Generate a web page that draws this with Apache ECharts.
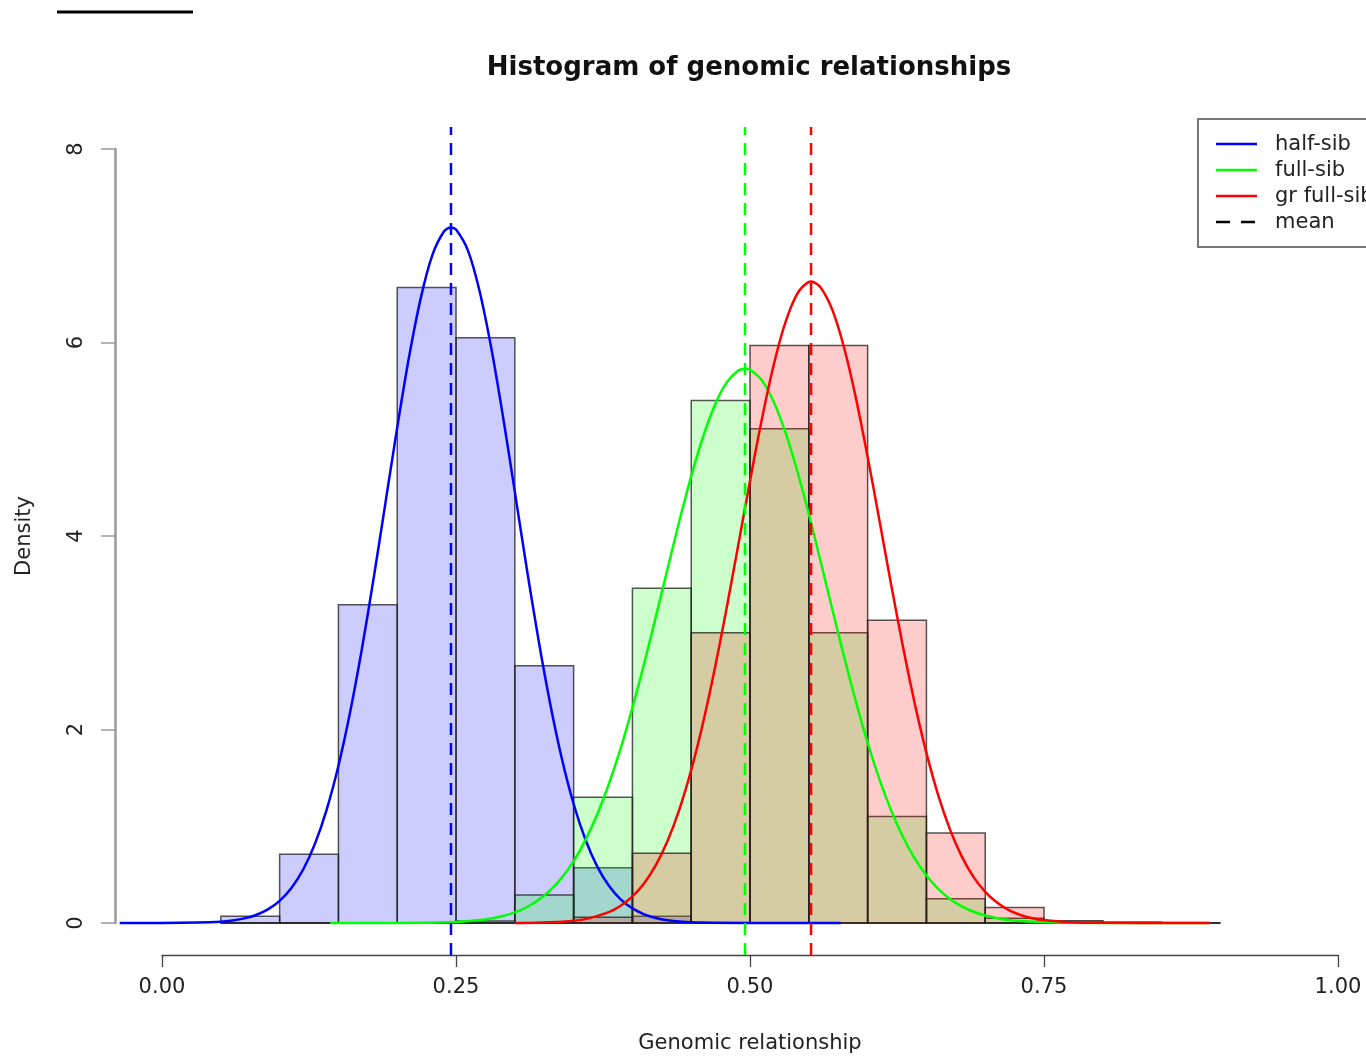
<!DOCTYPE html>
<html>
<head>
<meta charset="utf-8">
<script src="https://cdn.jsdelivr.net/npm/echarts@6/dist/echarts.min.js"></script>
<style>
html,body{margin:0;padding:0;background:#fff;}
#chart{width:1366px;height:1058px;}
</style>
</head>
<body>
<div id="chart"></div>
<script>
// ---- data ----
var binEdges = [0.05,0.10,0.15,0.20,0.25,0.30,0.35,0.40,0.45,0.50,0.55,0.60,0.65,0.70,0.75,0.80,0.85,0.90];
var halfSibHist   = [0.07,0.71,3.29,6.57,6.05,2.66,0.57,0.07,0,0,0,0,0,0,0,0,0];
var fullSibHist   = [0,0,0,0,0.02,0.29,1.30,3.46,5.40,5.11,3.00,1.10,0.25,0.05,0.02,0,0];
var grFullSibHist = [0,0,0,0,0,0,0.06,0.72,3.00,5.97,5.97,3.13,0.93,0.16,0.02,0.01,0];

var halfSibCurveX = [-0.036,0.0,0.03,0.05,0.06,0.07,0.08,0.09,0.10,0.11,0.12,0.13,0.14,0.15,0.16,0.17,0.18,0.19,0.20,0.21,0.22,0.23,0.24,0.2457,0.25,0.26,0.27,0.28,0.29,0.30,0.31,0.32,0.33,0.34,0.35,0.36,0.37,0.38,0.39,0.40,0.41,0.42,0.43,0.44,0.46,0.50,0.577];
var halfSibCurveY = [0,0,0.004,0.014,0.027,0.048,0.083,0.141,0.229,0.362,0.553,0.818,1.173,1.626,2.183,2.837,3.568,4.345,5.123,5.847,6.459,6.908,7.152,7.19,7.168,6.955,6.533,5.940,5.229,4.456,3.675,2.935,2.269,1.698,1.230,0.863,0.585,0.385,0.245,0.151,0.090,0.052,0.029,0.016,0.004,0,0];
var fullSibCurveX = [0.143,0.20,0.25,0.27,0.28,0.29,0.30,0.31,0.32,0.33,0.34,0.35,0.36,0.37,0.38,0.39,0.40,0.41,0.42,0.43,0.44,0.45,0.46,0.47,0.48,0.49,0.4957,0.50,0.51,0.52,0.53,0.54,0.55,0.56,0.57,0.58,0.59,0.60,0.61,0.62,0.63,0.64,0.65,0.66,0.67,0.68,0.69,0.70,0.71,0.72,0.73,0.75,0.80,0.891];
var fullSibCurveY = [0,0.001,0.011,0.030,0.047,0.073,0.110,0.163,0.237,0.337,0.469,0.640,0.857,1.121,1.439,1.808,2.227,2.685,3.172,3.670,4.160,4.619,5.024,5.352,5.586,5.711,5.73,5.719,5.610,5.391,5.075,4.680,4.227,3.739,3.241,2.752,2.289,1.865,1.488,1.163,0.891,0.668,0.491,0.353,0.249,0.172,0.116,0.077,0.050,0.032,0.020,0.007,0,0];
var grFullSibCurveX = [0.30,0.34,0.36,0.38,0.39,0.40,0.41,0.42,0.43,0.44,0.45,0.46,0.47,0.48,0.49,0.50,0.51,0.52,0.53,0.54,0.55,0.5519,0.56,0.57,0.58,0.59,0.60,0.61,0.62,0.63,0.64,0.65,0.66,0.67,0.68,0.69,0.70,0.71,0.72,0.73,0.74,0.75,0.77,0.80,0.891];
var grFullSibCurveY = [0,0.014,0.04,0.112,0.178,0.275,0.412,0.601,0.853,1.178,1.583,2.068,2.628,3.249,3.908,4.572,5.204,5.762,6.205,6.501,6.627,6.63,6.570,6.337,5.946,5.427,4.818,4.162,3.497,2.858,2.272,1.758,1.322,0.968,0.689,0.477,0.321,0.211,0.134,0.083,0.050,0.030,0.009,0.002,0];

var meanValues = [0.2457, 0.4957, 0.5519];   // half-sib, full-sib, gr full-sib
var seriesNames = ['half-sib','full-sib','gr full-sib','mean'];
var xTicks = [0,0.25,0.5,0.75,1];
var yTicks = [0,2,4,6,8];

// ---- build ----
var FONT = 'DejaVu Sans';
var Y_MIN = -0.3307, Y_MAX = 8.2277;   // plot-region extent (R adds 4% padding)
function histData(vals){
  var out = [];
  for (var i=0;i<vals.length;i++) out.push([binEdges[i], binEdges[i+1], vals[i]]);
  return out;
}
function pairs(xs, ys){ return xs.map(function(x,i){return [x, ys[i]];}); }

function histSeries(name, vals, fill){
  return {
    type:'custom', name:name, xAxisIndex:0, yAxisIndex:0, z:1,
    encode:{x:[0,1], y:2},
    data: histData(vals),
    renderItem: function(params, api){
      var p0 = api.coord([api.value(0), api.value(2)]);
      var p1 = api.coord([api.value(1), 0]);
      return {type:'rect', shape:{x:p0[0], y:p0[1], width:p1[0]-p0[0], height:p1[1]-p0[1]},
        style:{fill:fill, stroke:'rgba(30,30,30,0.75)', lineWidth:1.5}};
    },
    silent:true
  };
}
function curveSeries(name, xs, ys, color){
  return {
    type:'line', name:name, xAxisIndex:0, yAxisIndex:0, z:3,
    data: pairs(xs, ys), smooth:0.3, showSymbol:false, symbol:'none',
    lineStyle:{color:color, width:2.5}, silent:true
  };
}
function meanSeries(name, m, color){
  return {
    type:'line', name:name+' mean', xAxisIndex:0, yAxisIndex:0, z:4,
    data:[[m, Y_MIN],[m, Y_MAX]], showSymbol:false, symbol:'none', silent:true,
    lineStyle:{color:color, width:2.5, type:[12,8]}
  };
}

var chart = echarts.init(document.getElementById('chart'), null, {renderer:'canvas'});
var legendY = [144,170,196,222];
var legendColors = ['#0000ff','#00ff00','#ff0000','#000000'];
var graphics = [
  {type:'line', shape:{x1:57,y1:12,x2:193,y2:12}, style:{stroke:'#000', lineWidth:3}},
  {type:'text', x:749, y:68, style:{text:'Histogram of genomic relationships', font:'bold 26px "'+FONT+'"', fill:'#111', textAlign:'center', textVerticalAlign:'middle'}},
  {type:'text', x:750, y:1044, style:{text:'Genomic relationship', font:'21px "'+FONT+'"', fill:'#222', textAlign:'center', textVerticalAlign:'middle'}},
  {type:'text', x:25, y:536, rotation:Math.PI/2, style:{text:'Density', font:'21px "'+FONT+'"', fill:'#222', textAlign:'center', textVerticalAlign:'middle'}},
  {type:'rect', shape:{x:1198, y:119, width:220, height:128}, style:{fill:'#fff', stroke:'#777', lineWidth:2}, z:10}
];
for (var i=0;i<seriesNames.length;i++){
  graphics.push({type:'line', z:11, shape:{x1:1216,y1:legendY[i],x2:1257,y2:legendY[i]},
    style:{stroke:legendColors[i], lineWidth:2.5, lineDash: i===3 ? [14,11] : null}});
  graphics.push({type:'text', z:11, x:1275, y:legendY[i]+1, style:{text:seriesNames[i], font:'21px "'+FONT+'"', fill:'#222', textVerticalAlign:'middle'}});
}

// main plot region spans x=115..1366 (visible part); 1176 px per unit, value 0 at x=162
var option = {
  animation:false,
  backgroundColor:'#fff',
  textStyle:{fontFamily:FONT},
  grid:[
    {left:115, top:127, width:1251, height:828},
    {left:115, top:149, width:10, height:774},
    {left:162, top:954, width:1176, height:1}
  ],
  xAxis:[
    {gridIndex:0, type:'value', min:-0.04, max:1.02378, show:false},
    {gridIndex:1, type:'value', show:false},
    {gridIndex:2, type:'value', min:0, max:1, interval:0.25, position:'bottom',
      axisLine:{lineStyle:{color:'#444', width:1.3}},
      axisTick:{length:12, lineStyle:{color:'#444', width:1.3}},
      splitLine:{show:false},
      axisLabel:{fontSize:21, color:'#222', margin:22, fontFamily:FONT,
        formatter:function(v){return xTicks.indexOf(v)>=0 ? v.toFixed(2) : '';}}}
  ],
  yAxis:[
    {gridIndex:0, type:'value', min:Y_MIN, max:Y_MAX, show:false},
    {gridIndex:1, type:'value', min:0, max:8, interval:2, position:'left',
      axisLine:{show:true, lineStyle:{color:'#999', width:2.5}},
      axisTick:{show:true, length:14, lineStyle:{color:'#999', width:1.5}},
      splitLine:{show:false},
      axisLabel:{rotate:90, fontSize:21, color:'#222', margin:28, fontFamily:FONT,
        formatter:function(v){return yTicks.indexOf(v)>=0 ? String(v) : '';}}},
    {gridIndex:2, type:'value', show:false}
  ],
  series:[
    histSeries('half-sib hist', halfSibHist, 'rgba(0,0,255,0.2)'),
    histSeries('full-sib hist', fullSibHist, 'rgba(0,255,0,0.2)'),
    histSeries('gr full-sib hist', grFullSibHist, 'rgba(255,0,0,0.2)'),
    curveSeries('half-sib', halfSibCurveX, halfSibCurveY, '#0000ff'),
    curveSeries('full-sib', fullSibCurveX, fullSibCurveY, '#00ff00'),
    curveSeries('gr full-sib', grFullSibCurveX, grFullSibCurveY, '#ff0000'),
    meanSeries('half-sib', meanValues[0], '#0000ff'),
    meanSeries('full-sib', meanValues[1], '#00ff00'),
    meanSeries('gr full-sib', meanValues[2], '#ff0000')
  ],
  graphic:graphics
};
chart.setOption(option);
</script>
</body>
</html>
